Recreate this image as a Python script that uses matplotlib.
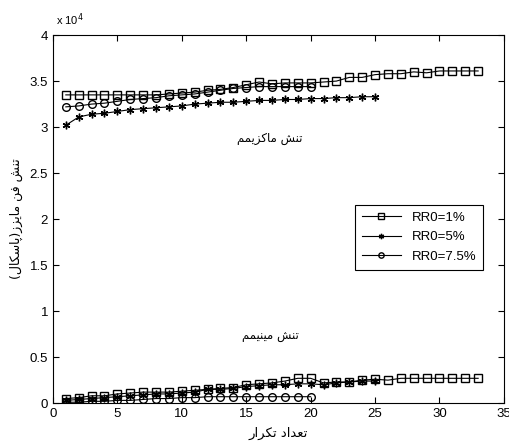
import matplotlib.pyplot as plt
from matplotlib.ticker import FuncFormatter

# stress values in units of 1e4 Pa
it_1 = list(range(1, 34))
max_1 = [3.35, 3.35, 3.35, 3.35, 3.35, 3.35, 3.35, 3.35, 3.36, 3.37, 3.38, 3.40, 3.41,
         3.43, 3.46, 3.49, 3.47, 3.48, 3.48, 3.48, 3.49, 3.50, 3.54, 3.54, 3.57, 3.58,
         3.58, 3.60, 3.59, 3.61, 3.61, 3.61, 3.61]
min_1 = [0.05, 0.06, 0.08, 0.08, 0.10, 0.11, 0.12, 0.12, 0.12, 0.13, 0.14, 0.15, 0.16,
         0.17, 0.20, 0.21, 0.22, 0.24, 0.27, 0.27, 0.22, 0.23, 0.23, 0.25, 0.26, 0.25,
         0.27, 0.27, 0.27, 0.27, 0.27, 0.27, 0.27]

it_5 = list(range(1, 26))
max_5 = [3.02, 3.11, 3.14, 3.15, 3.17, 3.19, 3.20, 3.21, 3.22, 3.23, 3.25, 3.26, 3.27,
         3.27, 3.28, 3.29, 3.29, 3.30, 3.30, 3.31, 3.31, 3.32, 3.32, 3.33, 3.33]
min_5 = [0.03, 0.04, 0.05, 0.06, 0.07, 0.08, 0.09, 0.10, 0.10, 0.11, 0.12, 0.15, 0.15,
         0.16, 0.18, 0.19, 0.20, 0.20, 0.21, 0.21, 0.20, 0.22, 0.23, 0.24, 0.24]

it_75 = list(range(1, 21))
max_75 = [3.22, 3.23, 3.25, 3.26, 3.28, 3.30, 3.31, 3.32, 3.34, 3.35, 3.36, 3.38, 3.40,
          3.42, 3.43, 3.44, 3.44, 3.44, 3.44, 3.44]
min_75 = [0.01, 0.01, 0.02, 0.02, 0.03, 0.03, 0.04, 0.05, 0.05, 0.06, 0.06, 0.07, 0.07,
          0.07, 0.07, 0.07, 0.07, 0.07, 0.07, 0.07]

labels = ["RR0=1%", "RR0=5%", "RR0=7.5%"]

# crude persian shaping, matplotlib has no RTL layout
FORMS = {
    "ت": "\uFE95\uFE96\uFE97\uFE98", "ن": "\uFEE5\uFEE6\uFEE7\uFEE8",
    "ش": "\uFEB5\uFEB6\uFEB7\uFEB8", "م": "\uFEE1\uFEE2\uFEE3\uFEE4",
    "ک": "\uFB8E\uFB8F\uFB90\uFB91", "ی": "\uFBFC\uFBFD\uFBFE\uFBFF",
    "ف": "\uFED1\uFED2\uFED3\uFED4", "پ": "\uFB56\uFB57\uFB58\uFB59",
    "س": "\uFEB1\uFEB2\uFEB3\uFEB4", "ل": "\uFEDD\uFEDE\uFEDF\uFEE0",
    "ع": "\uFEC9\uFECA\uFECB\uFECC",
    "ا": "\uFE8D\uFE8E", "ز": "\uFEAF\uFEB0", "د": "\uFEA9\uFEAA", "ر": "\uFEAD\uFEAE",
}


def shape(s):
    out = []
    for i, c in enumerate(s):
        if c not in FORMS:
            out.append({"(": ")", ")": "("}.get(c, c))
            continue
        prev = s[i - 1] if i > 0 else ""
        nxt = s[i + 1] if i + 1 < len(s) else ""
        j_prev = prev in FORMS and len(FORMS[prev]) == 4
        j_next = len(FORMS[c]) == 4 and nxt in FORMS
        f = FORMS[c]
        if j_prev and j_next:
            out.append(f[3])
        elif j_prev:
            out.append(f[1])
        elif j_next:
            out.append(f[2])
        else:
            out.append(f[0])
    return "".join(reversed(out))


plt.rcParams["font.family"] = ["Liberation Sans", "DejaVu Sans"]

fig = plt.figure(figsize=(5.09, 4.44), dpi=100)
ax = fig.add_axes([0.104, 0.092, 0.886, 0.829])

style = dict(color="black", lw=0.8, mfc="none", mec="black", ms=5.5)
star = (6, 2, 0)
ax.plot(it_1, max_1, marker="s", label=labels[0], **style)
ax.plot(it_5, max_5, marker=star, label=labels[1], **style)
ax.plot(it_75, max_75, marker="o", label=labels[2], **style)
ax.plot(it_1, min_1, marker="s", **style)
ax.plot(it_5, min_5, marker=star, **style)
ax.plot(it_75, min_75, marker="o", **style)

ax.set_xlim(0, 35)
ax.set_ylim(0, 4)
ax.set_xticks(range(0, 36, 5))
ax.set_yticks([i * 0.5 for i in range(9)])
ax.yaxis.set_major_formatter(FuncFormatter(lambda v, p: "%g" % v))
ax.tick_params(direction="in", top=True, right=True, labelsize=9.5, length=4)

ax.text(0.2, 4.08, "x 10$^4$", fontsize=8, va="bottom")
ax.text(16.8, 2.88, shape("تنش ماکزیمم"), fontsize=8.5, ha="center", va="center",
        family="DejaVu Sans")
ax.text(16.9, 0.72, shape("تنش مینیمم"), fontsize=8.5, ha="center", va="center",
        family="DejaVu Sans")
ax.set_xlabel(shape("تعداد تکرار"), fontsize=9.5, family="DejaVu Sans", labelpad=5)
ax.set_ylabel(shape("تنش فن مایزز(پاسکال)"), fontsize=9, family="DejaVu Sans",
              labelpad=5)

leg = ax.legend(loc="upper left", bbox_to_anchor=(0.670, 0.538), borderaxespad=0,
                fontsize=9.5, markerscale=0.7, handlelength=3.0, fancybox=False,
                edgecolor="black", framealpha=1, borderpad=0.5, labelspacing=0.55)
leg.get_frame().set_linewidth(0.8)

fig.savefig("out.png", dpi=100)
